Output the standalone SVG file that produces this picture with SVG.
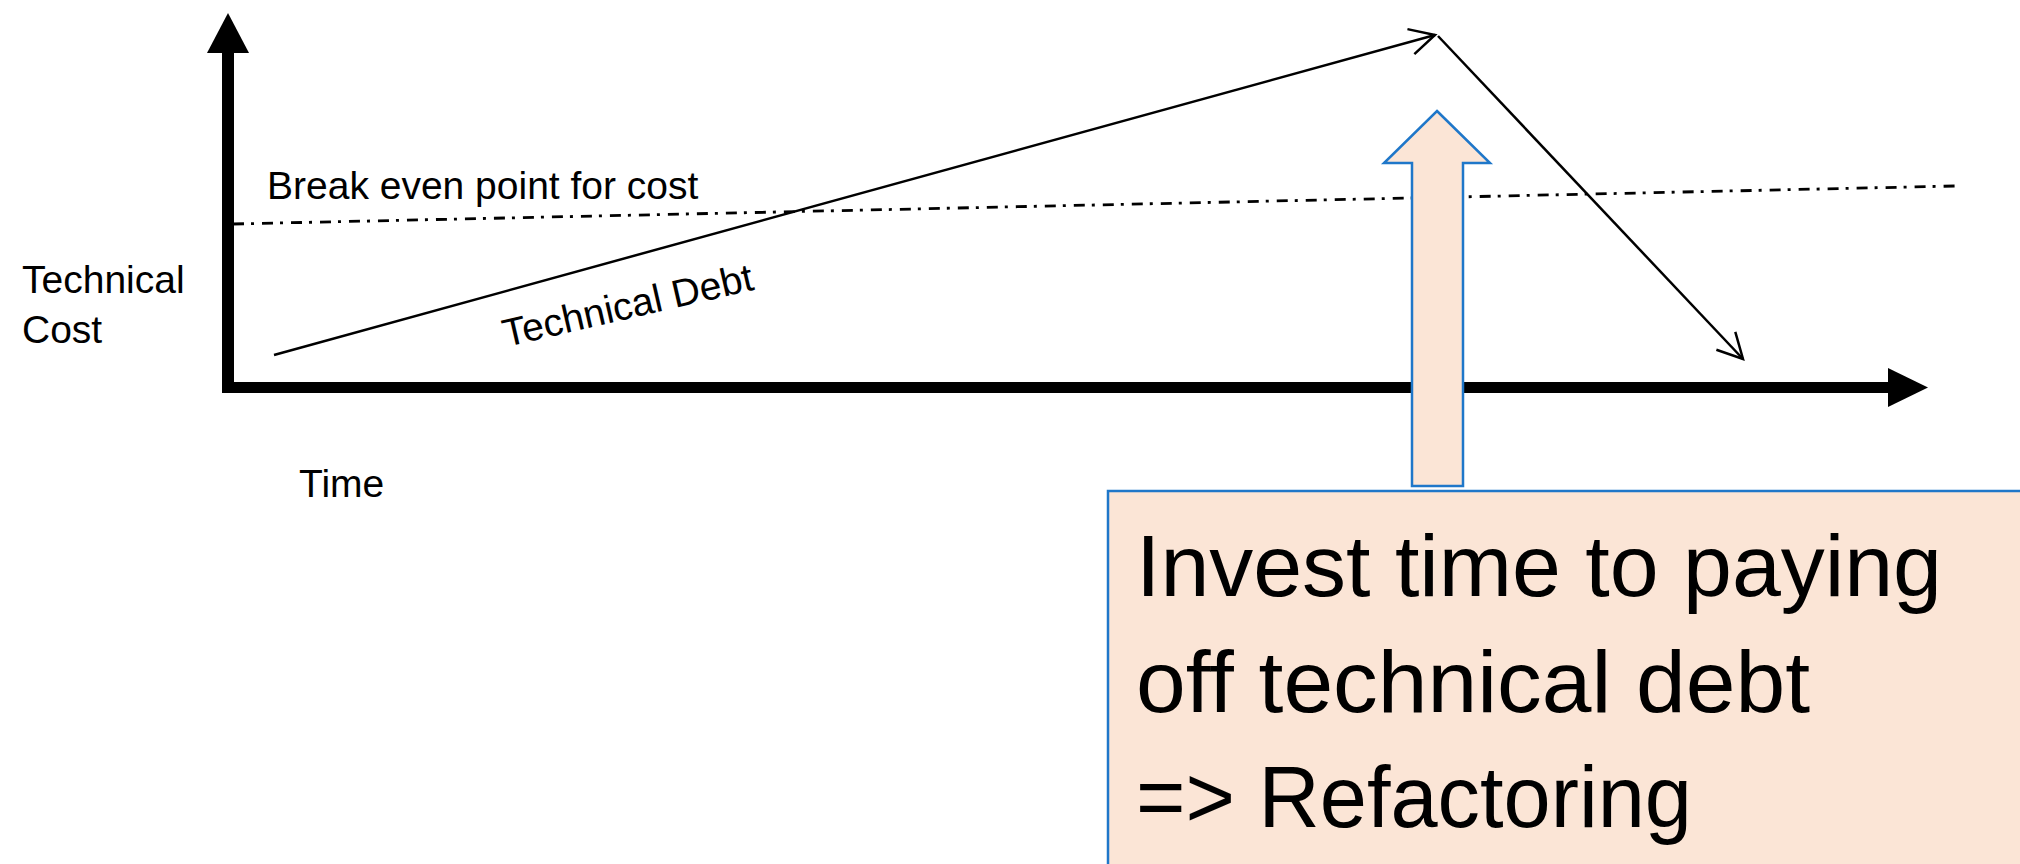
<svg xmlns="http://www.w3.org/2000/svg" width="2020" height="864" viewBox="0 0 2020 864">
<style>
.lbl{font-family:"Liberation Sans",Arial,sans-serif;font-size:39px;fill:#000}
.big{font-family:"Liberation Sans",Arial,sans-serif;font-size:88px;fill:#000}
.thin{stroke:#000;stroke-width:2.5;fill:none}
.callout{fill:#FBE5D6;stroke:#1F77C9;stroke-width:2.5}
</style>
<defs>
<marker id="open" markerUnits="userSpaceOnUse" markerWidth="40" markerHeight="40" viewBox="-30 -20 40 40" refX="0" refY="0" orient="auto">
<path d="M-25,-13 L0,0 L-25,13" fill="none" stroke="#000" stroke-width="2.5"/>
</marker>
</defs>
<rect width="2020" height="864" fill="#fff"/>
<g id="axes">
<rect x="222" y="50" width="12" height="343" fill="#000"/>
<polygon points="228,13 207,53 249,53" fill="#000"/>
<rect x="222" y="382" width="1670" height="11" fill="#000"/>
<polygon points="1888,368 1928,387.5 1888,407" fill="#000"/>
</g>
<g id="labels">
<text class="lbl" x="22" y="293">Technical</text>
<text class="lbl" x="22" y="343">Cost</text>
<text class="lbl" x="299" y="497">Time</text>
<text class="lbl" x="267" y="199">Break even point for cost</text>
<text class="lbl" x="506" y="347" transform="rotate(-13 506 347)">Technical Debt</text>
</g>
<g id="connectors">
<line id="break-even" x1="233" y1="224" x2="1955" y2="186" stroke="#000" stroke-width="2.8" stroke-dasharray="11 7 3 8"/>
<line id="debt" class="thin" x1="274" y1="355" x2="1435" y2="35" marker-end="url(#open)"/>
<line id="payoff" class="thin" x1="1438" y1="36" x2="1743" y2="359" marker-end="url(#open)"/>
</g>
<g id="refactor-arrow">
<polygon class="callout" points="1437,111 1490,163 1463,163 1463,486 1412,486 1412,163 1384,163"/>
</g>
<g id="callout-box">
<rect class="callout" x="1108" y="491" width="1000" height="500"/>
<text class="big" x="1136" y="596" textLength="806" lengthAdjust="spacingAndGlyphs">Invest time to paying</text>
<text class="big" x="1136" y="712" textLength="674" lengthAdjust="spacingAndGlyphs">off technical debt</text>
<text class="big" x="1136" y="827" textLength="556" lengthAdjust="spacingAndGlyphs">=&gt; Refactoring</text>
</g>
</svg>
